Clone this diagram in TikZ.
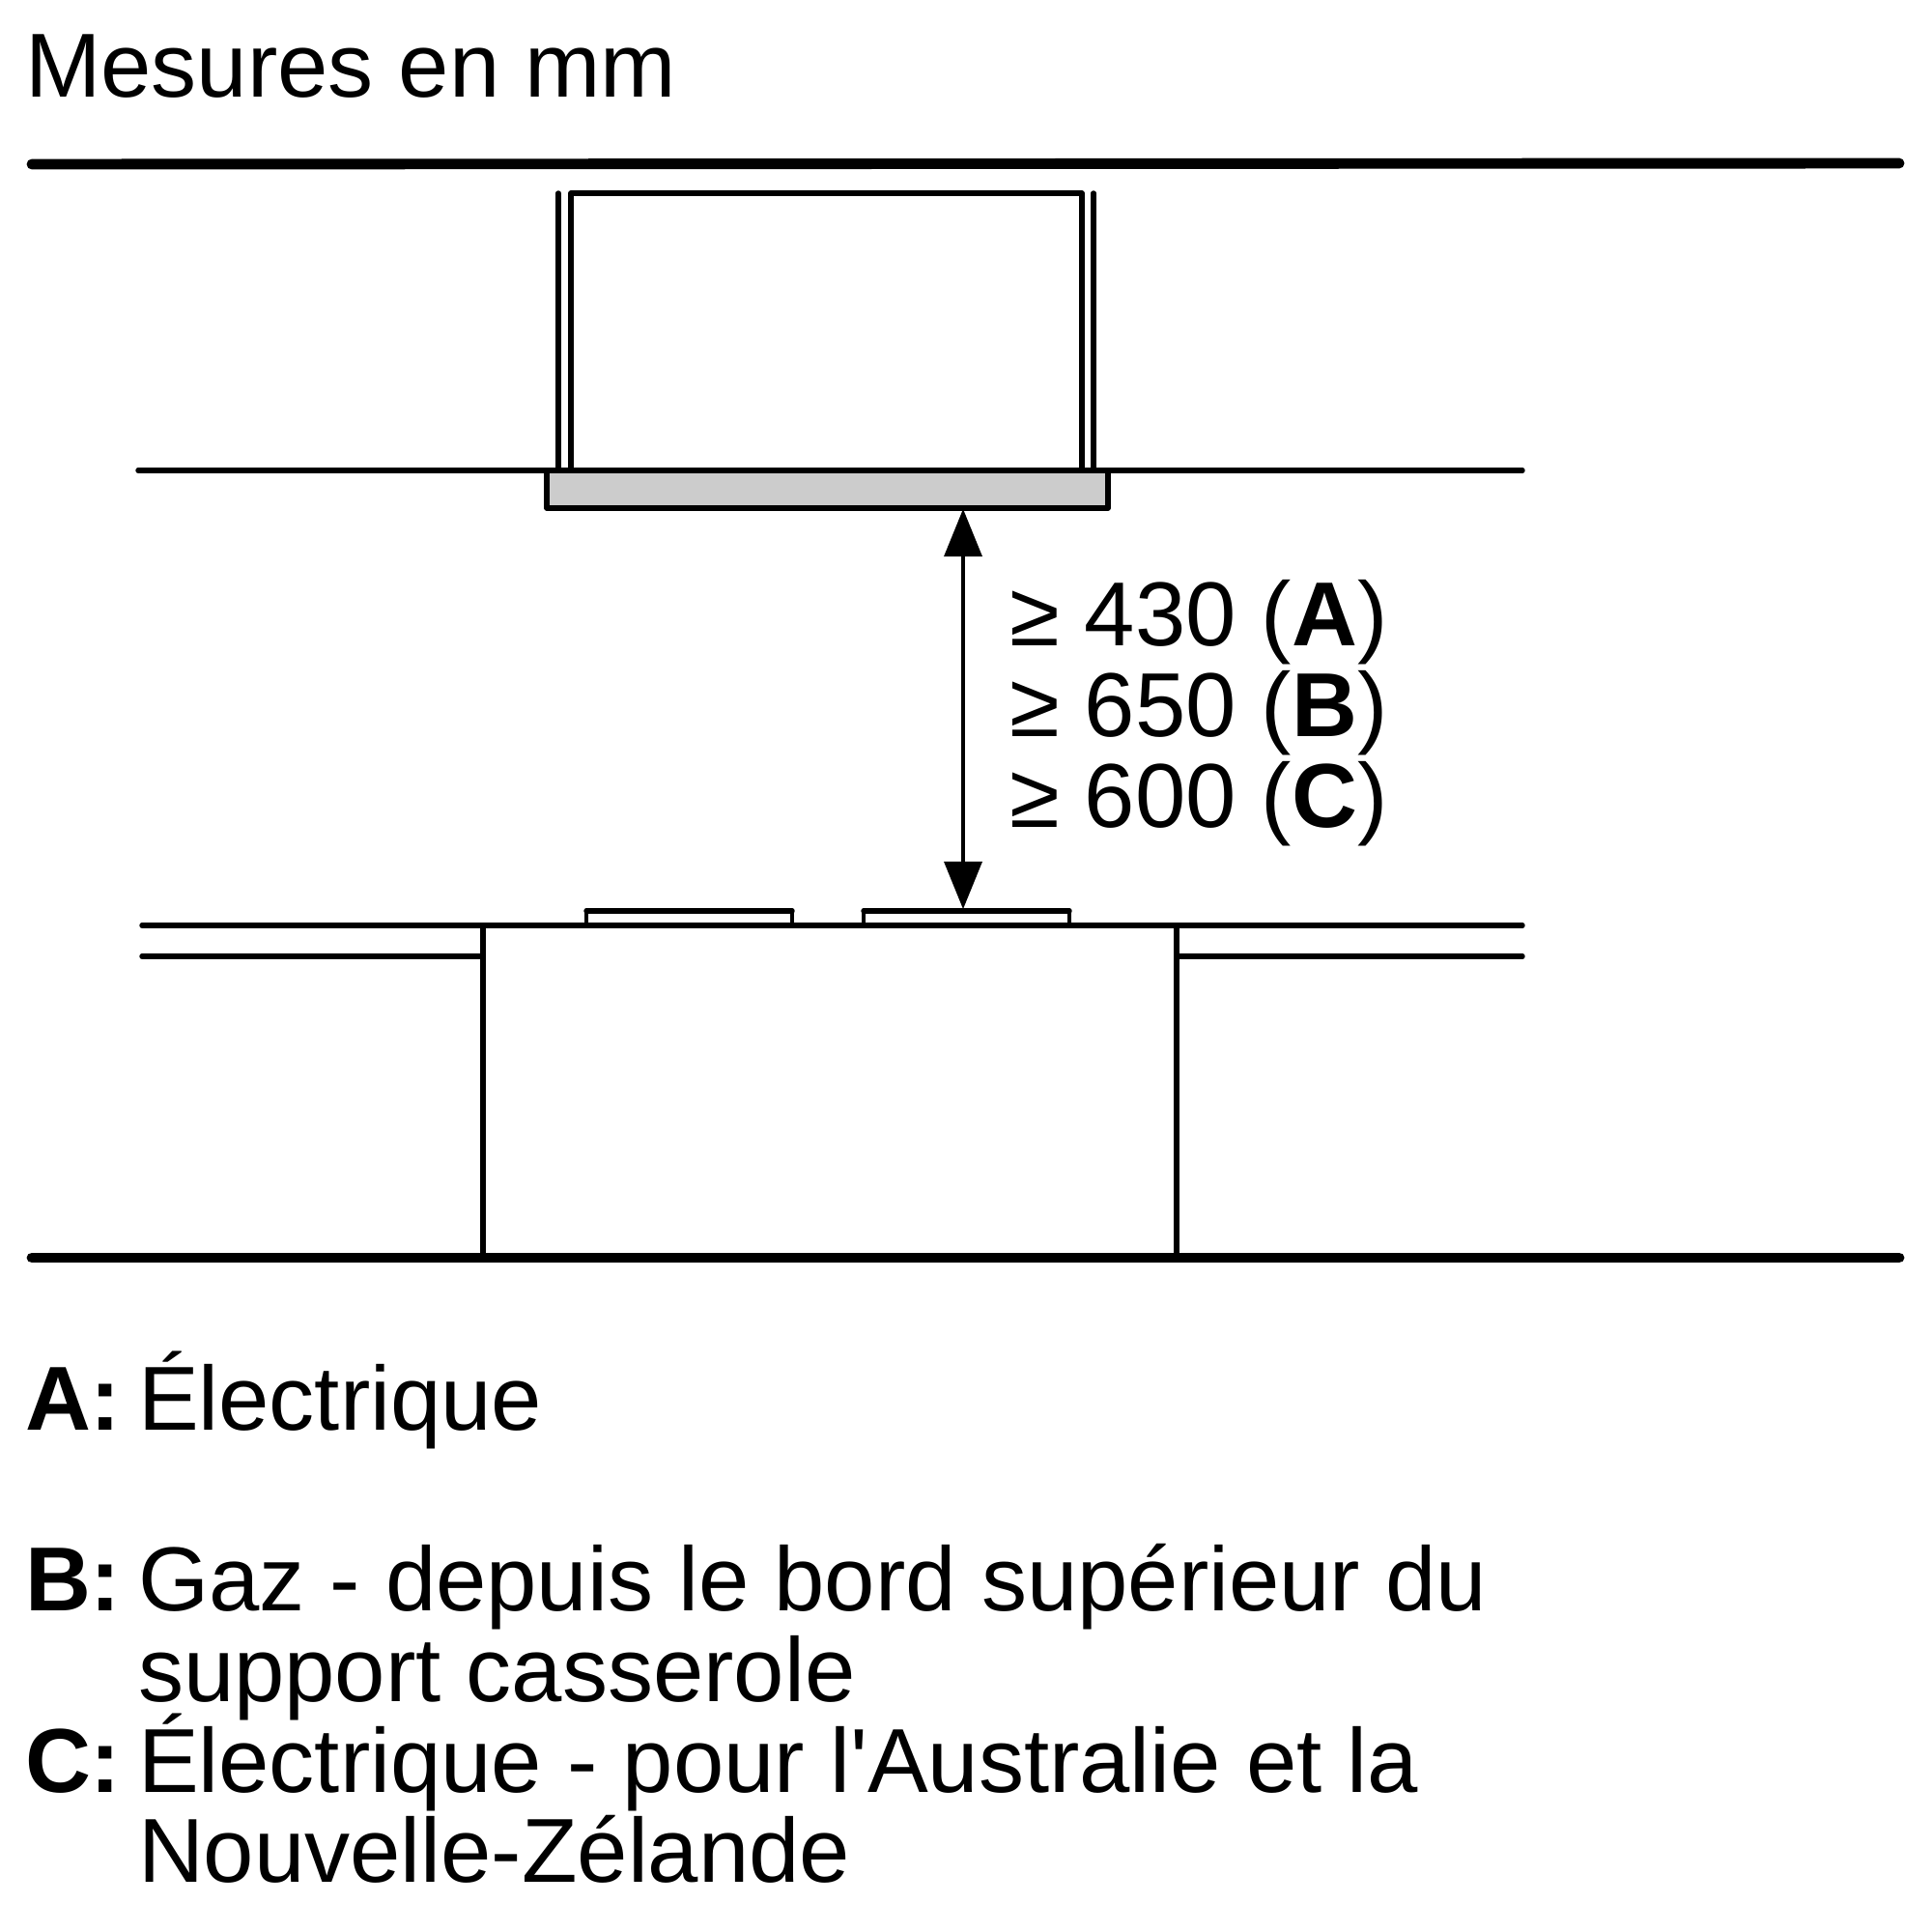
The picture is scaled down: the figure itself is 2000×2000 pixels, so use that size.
\documentclass[tikz,border=0pt]{standalone}
\usepackage{fontspec}
\setmainfont[Ligatures=TeXOff]{Liberation Sans}
\usetikzlibrary{arrows.meta}

\definecolor{hoodgray}{HTML}{CCCCCC}

\begin{document}
\begin{tikzpicture}[x=0.01cm, y=-0.01cm, line join=round, line cap=round]
	\tikzset{
		every node/.style={inner sep=0pt, outer sep=0pt, anchor=base west, font=\fontsize{26.75}{26.75}\selectfont},
		heavyline/.style={line width=3.1pt},
		midline/.style={line width=1.55pt},
		lightline/.style={line width=1.3pt},
		gaparrow/.style={line width=0.9pt, {Triangle[length=14pt, width=11.4pt, line width=0pt]}-{Triangle[length=14pt, width=11.4pt, line width=0pt]}}
	}
	\useasboundingbox (0,0) rectangle (2000,2000);
	\node (title) at (26,101) {Mesures en mm};
	% ceiling and floor
	\draw[heavyline] (33,170) -- (1966,169);
	\draw[heavyline] (33,1302) -- (1966,1302);
	% hood
	\draw[midline] (578,200) -- (578,487);
	\draw[midline] (1132,200) -- (1132,487);
	\draw[midline] (591,487) -- (591,200) -- (1120,200) -- (1120,487);
	\draw[midline] (143,487) -- (1576,487);
	\draw[midline, fill=hoodgray] (566,487) rectangle (1147,526);
	% worktop
	\draw[midline] (147,958) -- (1576,958);
	\draw[midline] (147,990) -- (500,990);
	\draw[midline] (1218,990) -- (1576,990);
	\draw[midline] (500,958) -- (500,1302);
	\draw[midline] (1218,958) -- (1218,1302);
	% pan supports
	\draw[lightline] (607,958) -- (607,943);
	\draw[lightline] (820,958) -- (820,943);
	\draw[midline] (607,943) -- (820,943);
	\draw[lightline] (894,958) -- (894,943);
	\draw[lightline] (1107,958) -- (1107,943);
	\draw[midline] (894,943) -- (1107,943);
	% distance
	\coordinate (hoodedge) at (997,527);
	\coordinate (supportedge) at (997,941);
	\draw[gaparrow] (hoodedge) -- (supportedge);
	\node (gapA) at (1045,668) {≥ 430 (\textbf{A})};
	\node (gapB) at (1045,762) {≥ 650 (\textbf{B})};
	\node (gapC) at (1045,856) {≥ 600 (\textbf{C})};
	% key
	\node (keyA) at (26,1480) {\textbf{A:}};
	\node (textA) at (143,1480) {Électrique};
	\node (keyB) at (26,1667) {\textbf{B:}};
	\node (textB) at (143,1667) {Gaz - depuis le bord supérieur du};
	\node (textBb) at (143,1761) {support casserole};
	\node (keyC) at (26,1855) {\textbf{C:}};
	\node (textC) at (143,1855) {Électrique - pour l'Australie et la};
	\node (textCb) at (143,1948) {Nouvelle-Zélande};
\end{tikzpicture}
\end{document}
